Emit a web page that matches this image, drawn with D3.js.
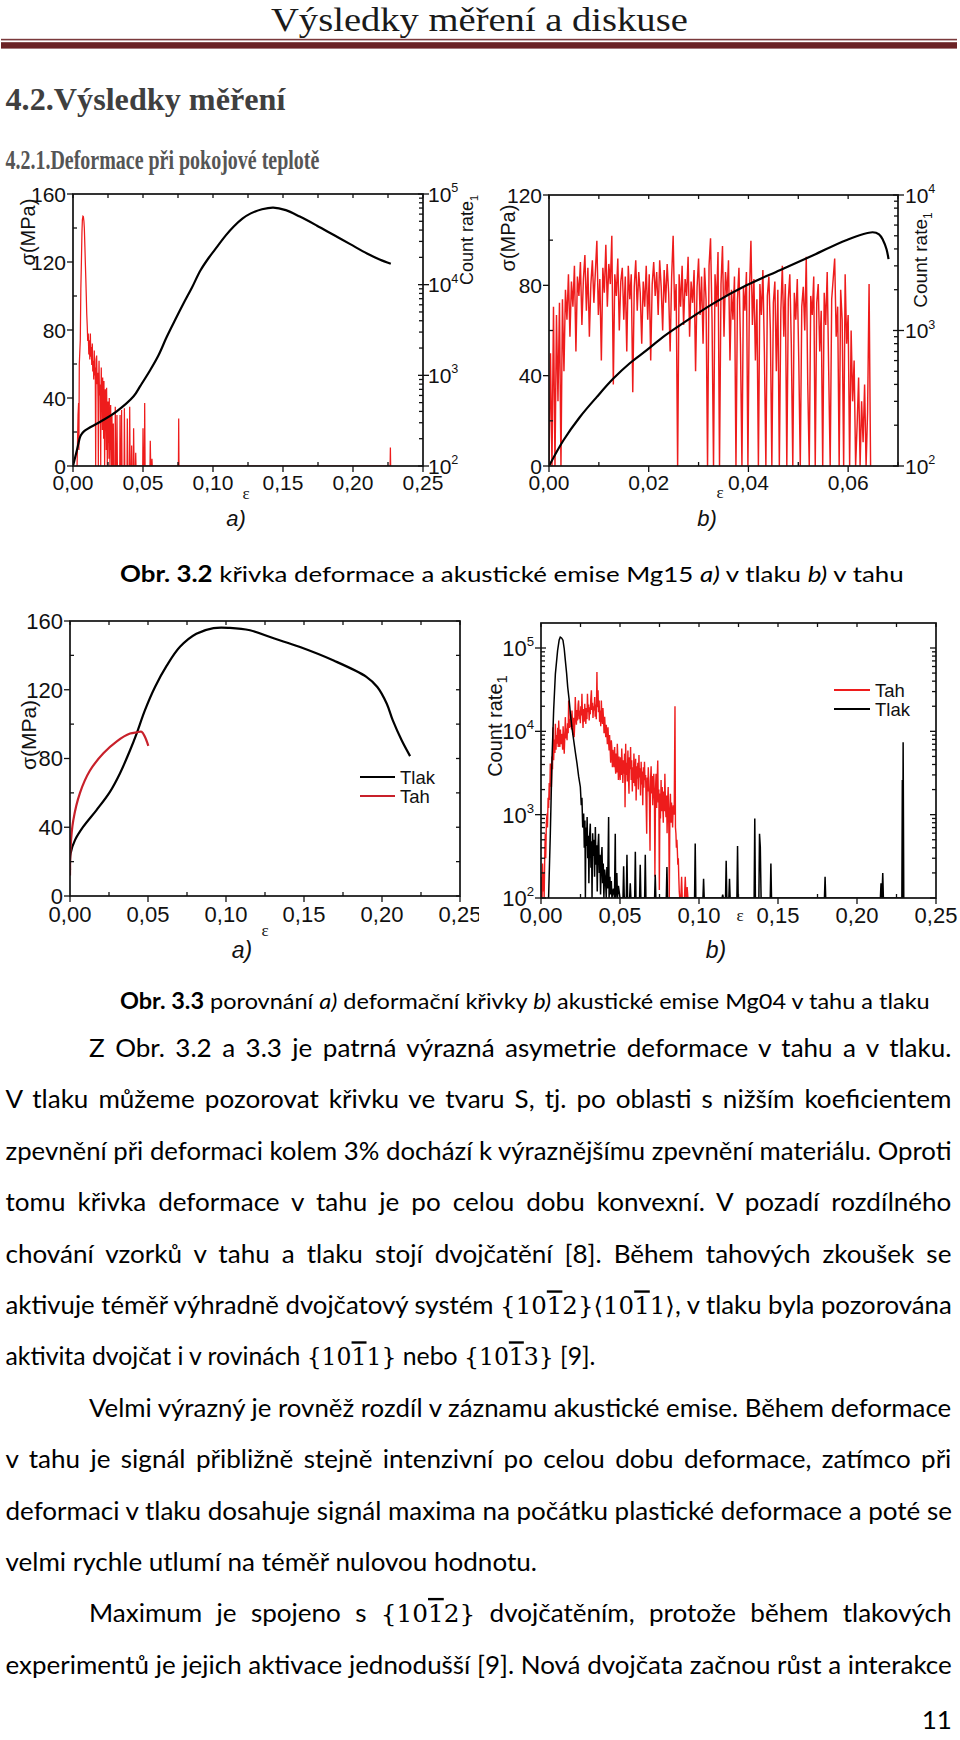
<!DOCTYPE html>
<html><head><meta charset="utf-8">
<script src="https://cdn.jsdelivr.net/npm/d3@7"></script>
<style>body{margin:0;background:#fff}svg{display:block}</style>
</head><body>
<svg id="page" width="960" height="1740"></svg>
<script>
// ---------------- DATA ----------------
// Obr. 3.2 a) Mg15 compression: stress (strain, MPa)
const mg15CompStress = [[0,0],[0.003,10],[0.0055,18],[0.008,20.5],[0.0195,26],[0.031,32],[0.0433,41],[0.048,47],[0.0552,56.5],[0.061,65],[0.067,76],[0.073,86],[0.079,95.7],[0.085,105],[0.091,115],[0.097,122.5],[0.103,129],[0.109,135.5],[0.115,141],[0.121,145.5],[0.127,148.6],[0.135,151],[0.143,152],[0.152,150.5],[0.162,146.7],[0.174,141.5],[0.186,136],[0.198,130.5],[0.21,125],[0.219,121.5],[0.227,119]];
// Obr. 3.2 a) Mg15 compression: AE count rate (strain, counts)
const mg15CompAE = [[0.0029,100],[0.0036,365],[0.0040,494],[0.0042,150],[0.0045,1334],[0.0052,2430],[0.0056,9000],[0.0060,17800],[0.0064,38000],[0.0067,52000],[0.0071,57000],[0.0074,56500],[0.0078,50000],[0.0081,42000],[0.0085,26000],[0.0088,17800],[0.0092,11000],[0.0095,7500],[0.0098,4800],[0.0102,3450],[0.0105,2400],[0.0109,2900],[0.0113,1700],[0.0117,2430],[0.0120,1500],[0.0124,2900],[0.0127,1600],[0.0131,2050],[0.0134,1300],[0.0138,2240],[0.0141,1100],[0.0145,1450],[0.0148,900],[0.0152,1880],[0.0155,1000],[0.0159,1220],[0.0162,100],[0.0165,1500],[0.0169,1650],[0.0172,800],[0.0176,1070],[0.0179,500],[0.0181,100],[0.0184,900],[0.0186,1450],[0.0189,600],[0.0193,790],[0.0196,300],[0.0198,100],[0.0200,700],[0.0202,1220],[0.0205,500],[0.0207,610],[0.0210,250],[0.0212,945],[0.0215,400],[0.0217,365],[0.0219,200],[0.0221,866],[0.0224,300],[0.0226,100],[0.0229,500],[0.0231,700],[0.0234,250],[0.0236,335],[0.0238,150],[0.0240,730],[0.0243,300],[0.0245,100],[0.0248,350],[0.0250,515],[0.0253,180],[0.0255,237],[0.0257,120],[0.0259,562],[0.0262,200],[0.0264,100],[0.0267,300],[0.0269,470],[0.0272,150],[0.0274,190],[0.0276,100],[0.0278,365],[0.0281,150],[0.0283,100],[0.0286,200],[0.0288,294],[0.0290,100],[0.0300,100],[0.0302,450],[0.0305,100],[0.0312,100],[0.0314,365],[0.0317,100],[0.0334,100],[0.0336,365],[0.0338,100],[0.0345,100],[0.0347,415],[0.0350,100],[0.0365,100],[0.0367,433],[0.0370,100],[0.0386,100],[0.0388,335],[0.0391,100],[0.0403,100],[0.0405,450],[0.0408,100],[0.0417,100],[0.0419,168],[0.0421,100],[0.0431,100],[0.0433,260],[0.0436,100],[0.0446,100],[0.0448,140],[0.0450,100],[0.0498,100],[0.0500,260],[0.0503,100],[0.0510,100],[0.0512,494],[0.0515,100],[0.0550,100],[0.0552,190],[0.0555,100],[0.0562,100],[0.0564,120],[0.0566,100],[0.0753,100],[0.0755,335],[0.0757,100],[0.2265,100],[0.2267,160],[0.2269,100]];

// Obr. 3.2 b) Mg15 tension: stress (strain, MPa)
const mg15TensStress = [[0,0],[0.0029,11.4],[0.0062,21.7],[0.0096,30.6],[0.0129,38.7],[0.0162,45.5],[0.0196,51.3],[0.0229,57.2],[0.0263,62.4],[0.033,72],[0.0396,80],[0.0463,86.7],[0.053,93.3],[0.0596,100],[0.0649,103.5],[0.0662,102.6],[0.067,100],[0.0677,96],[0.0681,91.6]];
// Obr. 3.2 b) Mg15 tension: AE count rate, sampled every 0.0003 of strain starting at 0
const mg15TensAEStrainStart = 0;
const mg15TensAEStrainStep = 0.0003;
const mg15TensAE = [
100,680,100,1500,100,1300,300,1600,100,1700,
500,2000,1200,2600,900,2300,1500,3000,700,2500,
1800,3200,1100,2400,3600,1400,2900,900,2200,3300,
1600,2700,4600,1300,2400,600,2900,1900,4300,1500,
3100,2200,5000,400,2600,1800,3400,1000,2300,2900,
1200,2500,700,3000,1700,2600,350,2100,3300,1400,
2700,1900,800,2300,1500,3000,1200,2600,600,2200,
3200,1800,2700,1300,3300,2100,1000,2800,1600,3100,
1900,700,2500,5000,1400,2200,100,2600,1500,3000,
1100,2400,1800,3500,900,2300,1600,2800,500,2100,
3400,1300,2500,800,2900,1700,100,3000,4800,1200,
100,2600,1500,3800,100,2200,4200,900,2700,1800,
3300,600,2000,1200,2500,100,1700,2900,800,100,
2100,1400,2700,100,1900,4600,1100,2400,600,1700,
100,2200,1300,2800,700,100,1800,2500,1000,100,
1600,2300,500,2000,100,1400,3000,900,2200,100,
1700,2600,800,100,1900,1200,2400,600,100,1500,
2100,1000,3500,400,100,1800,1300,2500,100,1600,
2200,700,1400,100,1900,1100,2700,500,100,1700,
2400,3400,900,1500,100,2000,1200,100,2600,800,
1300,100,1000,300,600,100,200,450,100,300,
150,400,100,250,2200,100];

// Obr. 3.3 a) Mg04 stress-strain curves (strain, MPa)
const mg04TlakStress = [[0,15],[0.0004,24.8],[0.0032,32.5],[0.0085,40.3],[0.017,50],[0.0256,60.6],[0.032,71.3],[0.0385,84.8],[0.0427,94.5],[0.048,108],[0.0545,121.6],[0.062,134],[0.0705,145],[0.081,152.6],[0.092,155.9],[0.1026,156],[0.1154,154.6],[0.131,149.8],[0.147,145],[0.169,137],[0.19,127.5],[0.197,121.6],[0.203,112],[0.207,102],[0.2126,90.6],[0.218,81.4]];
const mg04TahStress = [[0,12],[0.0004,28.7],[0.0021,44],[0.0064,60],[0.0128,73],[0.0214,83],[0.03,90],[0.0385,94.5],[0.0427,95.2],[0.0459,95.5],[0.048,92.6],[0.0502,87.4]];

// Obr. 3.3 b) Mg04 AE count rate (strain, counts)
const mg04TahAE = [[0.0000,100],[0.0004,180],[0.0007,100],[0.0010,260],[0.0013,120],[0.0017,200],[0.0020,100],[0.0024,350],[0.0027,590],[0.0030,300],[0.0034,800],[0.0038,1030],[0.0041,700],[0.0045,1600],[0.0048,1200],[0.0052,2400],[0.0055,1500],[0.0059,4100],[0.0062,2800],[0.0066,2150],[0.0070,5000],[0.0073,3500],[0.0076,11200],[0.0080,4500],[0.0084,8000],[0.0088,5500],[0.0091,12300],[0.0095,6000],[0.0098,9000],[0.0102,7100],[0.0106,11000],[0.0109,6500],[0.0112,13500],[0.0116,8000],[0.0119,6500],[0.0123,10500],[0.0126,7000],[0.0130,9300],[0.0133,8500],[0.0137,6000],[0.0140,11500],[0.0144,7800],[0.0147,5400],[0.0151,9000],[0.0154,14800],[0.0158,8200],[0.0161,10800],[0.0165,7800],[0.0168,12500],[0.0172,9500],[0.0175,23500],[0.0179,11000],[0.0182,14000],[0.0186,11200],[0.0189,16000],[0.0193,10500],[0.0196,17800],[0.0200,12000],[0.0203,9000],[0.0207,14500],[0.0210,8500],[0.0214,13000],[0.0217,25800],[0.0221,15000],[0.0224,12000],[0.0228,18000],[0.0231,13500],[0.0235,21000],[0.0238,23500],[0.0242,14000],[0.0245,17800],[0.0249,12500],[0.0252,20000],[0.0256,15500],[0.0259,28200],[0.0263,14800],[0.0266,11000],[0.0270,18500],[0.0273,13000],[0.0277,21400],[0.0280,16000],[0.0284,12300],[0.0287,19000],[0.0291,14000],[0.0294,28200],[0.0298,17000],[0.0301,21000],[0.0305,13500],[0.0308,19500],[0.0312,16000],[0.0315,24000],[0.0319,31000],[0.0322,18000],[0.0326,22000],[0.0329,14500],[0.0333,20000],[0.0336,17800],[0.0340,25800],[0.0343,15000],[0.0347,21000],[0.0350,14000],[0.0354,51500],[0.0357,19500],[0.0361,31000],[0.0364,17000],[0.0368,23500],[0.0371,13000],[0.0375,17800],[0.0378,11500],[0.0382,23500],[0.0385,15000],[0.0389,12300],[0.0392,19000],[0.0396,13500],[0.0399,9500],[0.0403,15000],[0.0406,11200],[0.0410,8500],[0.0413,12000],[0.0417,9300],[0.0420,7000],[0.0424,11200],[0.0427,8000],[0.0431,5900],[0.0434,9000],[0.0438,5900],[0.0441,4200],[0.0445,7800],[0.0448,6500],[0.0452,3700],[0.0455,6000],[0.0459,4700],[0.0462,3700],[0.0466,6500],[0.0469,4000],[0.0473,3100],[0.0476,5400],[0.0480,3200],[0.0483,7100],[0.0487,4500],[0.0490,2600],[0.0494,5000],[0.0497,3500],[0.0501,2600],[0.0504,4900],[0.0508,3000],[0.0511,6200],[0.0515,3700],[0.0518,2400],[0.0522,4500],[0.0525,3100],[0.0529,5400],[0.0532,1230],[0.0536,7100],[0.0539,3000],[0.0543,4200],[0.0546,2500],[0.0550,5900],[0.0553,3100],[0.0557,1780],[0.0560,4900],[0.0564,3500],[0.0567,6500],[0.0571,2600],[0.0574,4500],[0.0578,1900],[0.0581,3700],[0.0585,2400],[0.0588,5400],[0.0592,3000],[0.0595,2200],[0.0599,4700],[0.0602,1480],[0.0606,3800],[0.0609,2700],[0.0613,4200],[0.0616,2000],[0.0620,5200],[0.0623,2800],[0.0627,3600],[0.0630,1700],[0.0634,4300],[0.0637,2300],[0.0641,3300],[0.0644,1300],[0.0648,3700],[0.0651,2100],[0.0655,4300],[0.0658,2600],[0.0662,3000],[0.0665,1500],[0.0669,590],[0.0672,2800],[0.0676,1900],[0.0679,3700],[0.0683,2200],[0.0686,1600],[0.0690,370],[0.0693,2600],[0.0697,3800],[0.0700,1800],[0.0704,2900],[0.0707,1300],[0.0711,2150],[0.0714,3100],[0.0718,1500],[0.0721,180],[0.0725,2000],[0.0728,3100],[0.0732,1200],[0.0735,2500],[0.0739,4470],[0.0742,1400],[0.0746,2000],[0.0749,125],[0.0753,1800],[0.0756,900],[0.0760,2600],[0.0763,1100],[0.0767,2150],[0.0770,1480],[0.0774,800],[0.0777,1900],[0.0781,1100],[0.0784,3100],[0.0788,1300],[0.0791,935],[0.0795,1700],[0.0798,600],[0.0802,1500],[0.0805,2150],[0.0809,700],[0.0812,100],[0.0816,1200],[0.0819,1780],[0.0823,800],[0.0826,1400],[0.0830,1000],[0.0833,700],[0.0837,1300],[0.0843,1000],[0.0848,20000],[0.0851,700],[0.0854,590],[0.0857,400],[0.0860,500],[0.0863,370],[0.0866,250],[0.0869,300],[0.0872,180],[0.0875,120],[0.0878,100],[0.0885,100],[0.0890,180],[0.0894,100],[0.0908,100],[0.0913,180],[0.0918,100],[0.0922,100],[0.0925,135],[0.0930,100]];
const mg04TlakAE = [[0.0040,100],[0.0048,100],[0.0059,590],[0.0070,4900],[0.0080,17800],[0.0091,49000],[0.0105,93000],[0.0115,125000],[0.0122,135000],[0.0130,132000],[0.0139,124000],[0.0147,98000],[0.0154,71000],[0.0162,50000],[0.0169,34000],[0.0178,24000],[0.0186,16300],[0.0196,11000],[0.0207,7800],[0.0218,5500],[0.0228,4100],[0.0238,2900],[0.0249,2150],[0.0255,1300],[0.0259,1600],[0.0264,700],[0.0270,1030],[0.0274,400],[0.0278,850],[0.0281,100],[0.0284,700],[0.0288,420],[0.0292,940],[0.0296,300],[0.0300,560],[0.0303,150],[0.0307,520],[0.0312,780],[0.0316,230],[0.0320,480],[0.0323,100],[0.0327,600],[0.0331,320],[0.0335,500],[0.0339,180],[0.0344,710],[0.0348,250],[0.0352,430],[0.0356,120],[0.0360,380],[0.0365,590],[0.0369,200],[0.0373,330],[0.0377,110],[0.0382,300],[0.0386,410],[0.0390,150],[0.0394,260],[0.0398,100],[0.0403,220],[0.0408,170],[0.0413,100],[0.0417,235],[0.0422,130],[0.0428,940],[0.0431,100],[0.0436,180],[0.0440,110],[0.0445,160],[0.0449,100],[0.0458,130],[0.0465,100],[0.0470,590],[0.0473,100],[0.0480,200],[0.0484,100],[0.0490,140],[0.0500,100],[0.0519,100],[0.0523,240],[0.0527,100],[0.0540,100],[0.0544,330],[0.0548,100],[0.0561,100],[0.0565,150],[0.0569,100],[0.0593,100],[0.0597,360],[0.0601,100],[0.0624,100],[0.0628,250],[0.0632,100],[0.0656,100],[0.0660,330],[0.0664,100],[0.0719,100],[0.0723,190],[0.0727,100],[0.0793,100],[0.0797,235],[0.0801,100],[0.0972,100],[0.0976,450],[0.0980,100],[0.1025,100],[0.1029,170],[0.1033,100],[0.1146,100],[0.1150,110],[0.1154,100],[0.1168,100],[0.1172,280],[0.1176,100],[0.1189,100],[0.1193,170],[0.1197,100],[0.1240,100],[0.1244,420],[0.1248,100],[0.1349,100],[0.1353,900],[0.1357,100],[0.1379,100],[0.1383,590],[0.1388,410],[0.1393,100],[0.1451,100],[0.1455,260],[0.1459,100],[0.1794,100],[0.1798,180],[0.1802,100],[0.2148,100],[0.2152,150],[0.2158,100],[0.2163,200],[0.2167,100],[0.2284,100],[0.2287,2600],[0.2289,100],[0.2292,7400],[0.2296,100]];

// tick values
const strainTicks025 = [0, 0.05, 0.10, 0.15, 0.20, 0.25];
const strainMinor025 = [0.025, 0.075, 0.125, 0.175, 0.225];
const strainTicks007 = [0, 0.02, 0.04, 0.06];
const strainMinor007 = [0.01, 0.03, 0.05, 0.07];
const stress160Ticks = [0, 40, 80, 120, 160];
const stress160Minor = [20, 60, 100, 140];
const stress120Ticks = [0, 40, 80, 120];
const stress120Minor = [20, 60, 100];
const countTicks5 = [1e2, 1e3, 1e4, 1e5];
const countTicks4 = [1e2, 1e3, 1e4];

// texts
const pageHeader = "Výsledky měření a diskuse";
const heading1 = "4.2.Výsledky měření";
const heading2 = "4.2.1.Deformace při pokojové teplotě";
const caption32 = "**Obr. 3.2** křivka deformace a akustické emise Mg15 *a)* v tlaku *b)* v tahu";
const caption33 = "**Obr. 3.3** porovnání *a)* deformační křivky *b)* akustické emise Mg04 v tahu a tlaku";
const bodyLines = [
  "Z Obr. 3.2 a 3.3 je patrná výrazná asymetrie deformace v tahu a v tlaku.",
  "V tlaku můžeme pozorovat křivku ve tvaru S, tj. po oblasti s nižším koeficientem",
  "zpevnění při deformaci kolem 3% dochází k výraznějšímu zpevnění materiálu. Oproti",
  "tomu křivka deformace v tahu je po celou dobu konvexní. V pozadí rozdílného",
  "chování vzorků v tahu a tlaku stojí dvojčatění [8]. Během tahových zkoušek se",
  "aktivuje téměř výhradně dvojčatový systém {101\u03052}⟨101\u03051⟩, v tlaku byla pozorována",
  "aktivita dvojčat i v rovinách {101\u03051} nebo {101\u03053} [9].",
  "Velmi výrazný je rovněž rozdíl v záznamu akustické emise. Během deformace",
  "v tahu je signál přibližně stejně intenzivní po celou dobu deformace, zatímco při",
  "deformaci v tlaku dosahuje signál maxima na počátku plastické deformace a poté se",
  "velmi rychle utlumí na téměř nulovou hodnotu.",
  "Maximum je spojeno s {101\u03052} dvojčatěním, protože během tlakových",
  "experimentů je jejich aktivace jednodušší [9]. Nová dvojčata začnou růst a interakce"
];
const pageNumber = "11";

// ---------------- RENDER ----------------
const svg = d3.select('#page');
svg.append('rect').attr('width', 960).attr('height', 1740).attr('fill', '#fff');
const SANS = "'Liberation Sans', Arial, sans-serif";
const SERIF = "'Liberation Serif', 'Times New Roman', serif";
const BODY = "Lato, 'Open Sans', sans-serif";
const MATHF = "'DejaVu Serif', 'Liberation Serif', serif";
const comma = d => d3.format('.2f')(d).replace('.', ',');

function fitText(str, x0, base, width, size, family, weight, fill) {
  const t = svg.append('text').attr('x', 0).attr('y', 0).attr('font-family', family)
    .attr('font-size', size).attr('font-weight', weight || 'normal').attr('fill', fill || '#000').text(str);
  const w = t.node().getComputedTextLength();
  t.attr('transform', `translate(${x0},${base}) scale(${width / w},1)`);
  return t;
}

// header
fitText(pageHeader, 271, 31, 417, 33, SERIF, 'normal', '#1a1a1a');
svg.append('rect').attr('x', 1).attr('y', 38.8).attr('width', 956).attr('height', 1.6).attr('fill', '#7a3a3c');
svg.append('rect').attr('x', 1).attr('y', 42.2).attr('width', 956).attr('height', 6.4).attr('fill', '#6a2225');
fitText(heading1, 5.5, 110, 280, 32, SERIF, 'bold', '#3f3f3f');
fitText(heading2, 5.5, 169, 314, 27, SERIF, 'bold', '#555555');

// rich text helpers
function addMath(t, seg, size) {
  seg.split(/(\{[^}]*\}|⟨[^⟩]*⟩)/).forEach(s => {
    if (!s) return;
    if (/^[{⟨]/.test(s)) {
      const chars = [...s]; let buf = '';
      const flush = () => { if (buf) { t.append('tspan').attr('font-family', MATHF).attr('font-size', size * 0.95).text(buf); buf = ''; } };
      for (let i = 0; i < chars.length; i++) {
        if (chars[i + 1] === '\u0305') {
          flush();
          t.append('tspan').attr('font-family', MATHF).attr('font-size', size * 0.95).style('text-decoration', 'overline').text(chars[i]);
          i++;
        } else buf += chars[i];
      }
      flush();
    } else t.append('tspan').text(s);
  });
}
function richText(str, size, family) {
  const t = svg.append('text').attr('x', 0).attr('y', 0).attr('font-family', family)
    .attr('font-size', size).attr('fill', '#000').style('white-space', 'pre');
  str.split(/(\*\*[^*]+\*\*|\*[^*]+\*)/).forEach(seg => {
    if (!seg) return;
    if (seg.startsWith('**')) t.append('tspan').attr('font-weight', 'bold').text(seg.slice(2, -2));
    else if (seg.startsWith('*')) t.append('tspan').attr('font-style', 'italic').text(seg.slice(1, -1));
    else addMath(t, seg, size);
  });
  return t;
}

// captions
function caption(str, x0, base, width) {
  const t = richText(str, 22, BODY);
  const w = t.node().getComputedTextLength();
  t.attr('transform', `translate(${x0},${base}) scale(${width / w},1)`);
}
caption(caption32, 120, 582, 784);
caption(caption33, 120, 1009, 810);

// body text
const BODY_SIZE = 25;
const calib = richText(bodyLines[10], BODY_SIZE, BODY);
const squeeze = 532 / calib.node().getComputedTextLength();
calib.remove();
const lineLayout = [
  ['just', 89], ['just', 5.5], ['just', 5.5], ['just', 5.5], ['just', 5.5], ['just', 5.5], ['end', 5.5, 596],
  ['just', 89], ['just', 5.5], ['just', 5.5], ['end', 5.5, 537], ['just', 89], ['just', 5.5]
];
bodyLines.forEach((str, i) => {
  const base = 1057 + i * 51.4;
  const [mode, x0, x1] = lineLayout[i];
  const t = richText(str, BODY_SIZE, BODY);
  const w = t.node().getComputedTextLength();
  let f = squeeze;
  if (mode === 'just') {
    const n = (str.match(/ /g) || []).length;
    const target = 952 - x0;
    let ws = (target / f - w) / n;
    if (ws < 0) { f = target / w; ws = 0; }
    t.style('word-spacing', ws + 'px');
  } else {
    f = (x1 - x0) / w;
  }
  t.attr('transform', `translate(${x0},${base}) scale(${f},1)`);
});
{
  const t = svg.append('text').attr('font-family', BODY).attr('font-size', 25).text(pageNumber);
  const w = t.node().getComputedTextLength();
  t.attr('transform', `translate(${952 - w * squeeze},1729) scale(${squeeze},1)`);
}

// ---------------- CHART HELPERS ----------------
function tickLine(g, x1, y1, x2, y2) {
  g.append('line').attr('x1', x1).attr('y1', y1).attr('x2', x2).attr('y2', y2)
    .attr('stroke', '#111').attr('stroke-width', 1.3);
}
function hTicks(g, X, vals, at, up, down) { vals.forEach(v => tickLine(g, X(v), at - up, X(v), at + down)); }
function vTicks(g, Y, vals, at, left, right) { vals.forEach(v => tickLine(g, at - left, Y(v), at + right, Y(v))); }
function logMinors(lo, hi) {
  const out = [];
  for (let e = Math.floor(Math.log10(lo)); e <= Math.ceil(Math.log10(hi)); e++)
    for (let m = 2; m <= 9; m++) { const v = m * Math.pow(10, e); if (v > lo && v < hi) out.push(v); }
  return out;
}
function xLabels(g, X, vals, base, size) {
  vals.forEach(v => g.append('text').attr('x', X(v)).attr('y', base).attr('text-anchor', 'middle')
    .attr('font-family', SANS).attr('font-size', size).attr('fill', '#111').text(comma(v)));
}
function yLabels(g, Y, vals, xPos, size) {
  vals.forEach(v => g.append('text').attr('x', xPos).attr('y', Y(v) + size * 0.36).attr('text-anchor', 'end')
    .attr('font-family', SANS).attr('font-size', size).attr('fill', '#111').text(v));
}
function logLabels(g, Y, vals, xPos, anchor, size) {
  vals.forEach(v => {
    const t = g.append('text').attr('x', xPos).attr('y', Y(v) + size * 0.36).attr('text-anchor', anchor)
      .attr('font-family', SANS).attr('font-size', size).attr('fill', '#111');
    t.append('tspan').text('10');
    t.append('tspan').attr('dy', -size * 0.45).attr('font-size', size * 0.6).text(Math.round(Math.log10(v)));
  });
}
function rotLabel(g, bx, cy, str, size, sub, subSize) {
  const t = g.append('text').attr('transform', `translate(${bx},${cy}) rotate(-90)`).attr('text-anchor', 'middle')
    .attr('font-family', SANS).attr('font-size', size).attr('fill', '#111');
  t.append('tspan').text(str);
  if (sub) t.append('tspan').attr('dy', size * 0.25).attr('font-size', subSize).text(sub);
}
function epsLabel(g, x, y) {
  g.append('text').attr('x', x).attr('y', y).attr('text-anchor', 'middle').attr('font-family', SERIF)
    .attr('font-size', 17).attr('fill', '#111').text('ε');
}
function plotClip(id, X, Y) {
  const [x0, x1] = X.range(); const [y1, y0] = Y.range();
  svg.append('clipPath').attr('id', id).append('rect').attr('x', x0).attr('y', y0 - 2).attr('width', x1 - x0).attr('height', y1 - y0 + 2);
  return `url(#${id})`;
}
function frame(g, X, Y) {
  const [x0, x1] = X.range(); const [y1, y0] = Y.range();
  g.append('rect').attr('x', x0).attr('y', y0).attr('width', x1 - x0).attr('height', y1 - y0)
    .attr('fill', 'none').attr('stroke', '#111').attr('stroke-width', 1.7);
}
const smooth = d3.curveCatmullRom.alpha(0.5);

// ---------------- CHART 1a ----------------
{
  const g = svg.append('g');
  const X = d3.scaleLinear().domain([0, 0.25]).range([73, 423]);
  const Y = d3.scaleLinear().domain([0, 160]).range([466, 194]);
  const R = d3.scaleLog().domain([1e2, 1e5]).range([466, 194]);
  const clip = plotClip('c1a', X, Y);
  g.append('path').datum(mg15CompAE).attr('clip-path', clip).attr('fill', 'none').attr('stroke', '#ee1c1c').attr('stroke-width', 1.25)
    .attr('d', d3.line().x(d => X(d[0])).y(d => R(d[1])));
  g.append('path').datum(mg15CompStress).attr('clip-path', clip).attr('fill', 'none').attr('stroke', '#000').attr('stroke-width', 2.2)
    .attr('d', d3.line().curve(smooth).x(d => X(d[0])).y(d => Y(d[1])));
  frame(g, X, Y);
  hTicks(g, X, strainTicks025, 466, 0, 6); hTicks(g, X, strainMinor025, 466, 4, 0);
  hTicks(g, X, strainTicks025.concat(strainMinor025), 194, 0, 4);
  vTicks(g, Y, stress160Ticks, 73, 6, 0); vTicks(g, Y, stress160Minor, 73, 0, 4);
  vTicks(g, R, countTicks5, 423, 5, 6); vTicks(g, R, logMinors(1e2, 1e5), 423, 4, 0);
  xLabels(g, X, strainTicks025, 490, 21);
  yLabels(g, Y, stress160Ticks, 66, 21);
  logLabels(g, R, countTicks5, 428, 'start', 21);
  rotLabel(g, 35, 232, 'σ(MPa)', 20);
  rotLabel(g, 473, 240, 'Count rate', 18, '1', 11);
  epsLabel(g, 246, 499);
  g.append('text').attr('x', 236).attr('y', 526).attr('text-anchor', 'middle').attr('font-family', SANS)
    .attr('font-style', 'italic').attr('font-size', 22).attr('fill', '#111').text('a)');
}

// ---------------- CHART 1b ----------------
{
  const g = svg.append('g');
  const X = d3.scaleLinear().domain([0, 0.07]).range([549, 898]);
  const Y = d3.scaleLinear().domain([0, 120]).range([466, 195]);
  const R = d3.scaleLog().domain([1e2, 1e4]).range([466, 195]);
  const clip = plotClip('c1b', X, Y);
  const ae = mg15TensAE.map((c, i) => [mg15TensAEStrainStart + i * mg15TensAEStrainStep, c]);
  g.append('path').datum(ae).attr('clip-path', clip).attr('fill', 'none').attr('stroke', '#ee1c1c').attr('stroke-width', 1.45)
    .attr('stroke-linejoin', 'bevel')
    .attr('d', d3.line().x(d => X(d[0])).y(d => R(d[1])));
  g.append('path').datum(mg15TensStress).attr('clip-path', clip).attr('fill', 'none').attr('stroke', '#000').attr('stroke-width', 2.2)
    .attr('d', d3.line().curve(smooth).x(d => X(d[0])).y(d => Y(d[1])));
  frame(g, X, Y);
  hTicks(g, X, strainTicks007, 466, 0, 6); hTicks(g, X, strainMinor007, 466, 4, 0);
  hTicks(g, X, strainTicks007.concat(strainMinor007), 195, 0, 4);
  vTicks(g, Y, stress120Ticks, 549, 6, 0); vTicks(g, Y, stress120Minor, 549, 0, 4);
  vTicks(g, R, countTicks4, 898, 5, 6); vTicks(g, R, logMinors(1e2, 1e4), 898, 4, 0);
  xLabels(g, X, strainTicks007, 490, 21);
  yLabels(g, Y, stress120Ticks, 542, 21);
  logLabels(g, R, countTicks4, 905, 'start', 21);
  rotLabel(g, 515, 238, 'σ(MPa)', 20);
  rotLabel(g, 927, 260, 'Count rate', 19, '1', 12);
  epsLabel(g, 720, 498);
  g.append('text').attr('x', 707).attr('y', 526).attr('text-anchor', 'middle').attr('font-family', SANS)
    .attr('font-style', 'italic').attr('font-size', 22).attr('fill', '#111').text('b)');
}

// ---------------- CHART 2a ----------------
{
  svg.append('clipPath').attr('id', 'c2aPanel').append('rect').attr('x', 0).attr('y', 590).attr('width', 479).attr('height', 390);
  const g = svg.append('g').attr('clip-path', 'url(#c2aPanel)');
  const X = d3.scaleLinear().domain([0, 0.25]).range([70, 460]);
  const Y = d3.scaleLinear().domain([0, 160]).range([896, 621]);
  const clip = plotClip('c2a', X, Y);
  g.append('path').datum(mg04TlakStress).attr('clip-path', clip).attr('fill', 'none').attr('stroke', '#000').attr('stroke-width', 2.2)
    .attr('d', d3.line().curve(smooth).x(d => X(d[0])).y(d => Y(d[1])));
  g.append('path').datum(mg04TahStress).attr('clip-path', clip).attr('fill', 'none').attr('stroke', '#c8202a').attr('stroke-width', 2.2)
    .attr('d', d3.line().curve(smooth).x(d => X(d[0])).y(d => Y(d[1])));
  frame(g, X, Y);
  hTicks(g, X, strainTicks025, 896, 0, 6); hTicks(g, X, strainMinor025, 896, 4, 0);
  hTicks(g, X, strainTicks025.concat(strainMinor025), 621, 0, 4);
  vTicks(g, Y, stress160Ticks, 70, 6, 0); vTicks(g, Y, stress160Minor, 70, 0, 4);
  vTicks(g, Y, stress160Ticks.concat(stress160Minor), 460, 4, 0);
  xLabels(g, X, strainTicks025, 922, 22);
  yLabels(g, Y, stress160Ticks, 63, 22);
  rotLabel(g, 36, 735, 'σ(MPa)', 21);
  epsLabel(g, 265, 936);
  // legend
  const leg = [['Tlak', '#000', 777], ['Tah', '#c8202a', 796]];
  leg.forEach(([name, col, y]) => {
    g.append('line').attr('x1', 360).attr('x2', 395).attr('y1', y).attr('y2', y).attr('stroke', col).attr('stroke-width', 2.2);
    g.append('text').attr('x', 400).attr('y', y + 6.5).attr('font-family', SANS).attr('font-size', 18.5).attr('fill', '#111').text(name);
  });
}
svg.append('text').attr('x', 242).attr('y', 958).attr('text-anchor', 'middle').attr('font-family', SANS)
  .attr('font-style', 'italic').attr('font-size', 23).attr('fill', '#111').text('a)');

// ---------------- CHART 2b ----------------
{
  const g = svg.append('g');
  const X = d3.scaleLinear().domain([0, 0.25]).range([541, 936]);
  const Y = d3.scaleLog().domain([1e2, Math.pow(10, 5.3)]).range([898, 623]);
  const clip = plotClip('c2b', X, Y);
  g.append('path').datum(mg04TahAE).attr('clip-path', clip).attr('fill', 'none').attr('stroke', '#ee1c1c').attr('stroke-width', 1.4)
    .attr('d', d3.line().x(d => X(d[0])).y(d => Y(d[1])));
  g.append('path').datum(mg04TlakAE).attr('clip-path', clip).attr('fill', 'none').attr('stroke', '#000').attr('stroke-width', 1.5)
    .attr('d', d3.line().x(d => X(d[0])).y(d => Y(d[1])));
  frame(g, X, Y);
  hTicks(g, X, strainTicks025, 898, 0, 6); hTicks(g, X, strainMinor025, 898, 4, 0);
  hTicks(g, X, strainTicks025.concat(strainMinor025), 623, 0, 4);
  const minors = logMinors(1e2, Math.pow(10, 5.3));
  vTicks(g, Y, countTicks5, 541, 6, 5); vTicks(g, Y, minors, 541, 0, 4);
  vTicks(g, Y, countTicks5, 936, 6, 0); vTicks(g, Y, minors, 936, 4, 0);
  xLabels(g, X, strainTicks025, 923, 22);
  logLabels(g, Y, countTicks5, 534, 'end', 22);
  rotLabel(g, 502, 726, 'Count rate', 20, '1', 15);
  epsLabel(g, 740, 921);
  const leg = [['Tah', '#ee1c1c', 690], ['Tlak', '#000', 709]];
  leg.forEach(([name, col, y]) => {
    g.append('line').attr('x1', 834).attr('x2', 870).attr('y1', y).attr('y2', y).attr('stroke', col).attr('stroke-width', 2.2);
    g.append('text').attr('x', 875).attr('y', y + 6.5).attr('font-family', SANS).attr('font-size', 18.5).attr('fill', '#111').text(name);
  });
}
svg.append('text').attr('x', 716).attr('y', 958).attr('text-anchor', 'middle').attr('font-family', SANS)
  .attr('font-style', 'italic').attr('font-size', 23).attr('fill', '#111').text('b)');
</script>
</body></html>
